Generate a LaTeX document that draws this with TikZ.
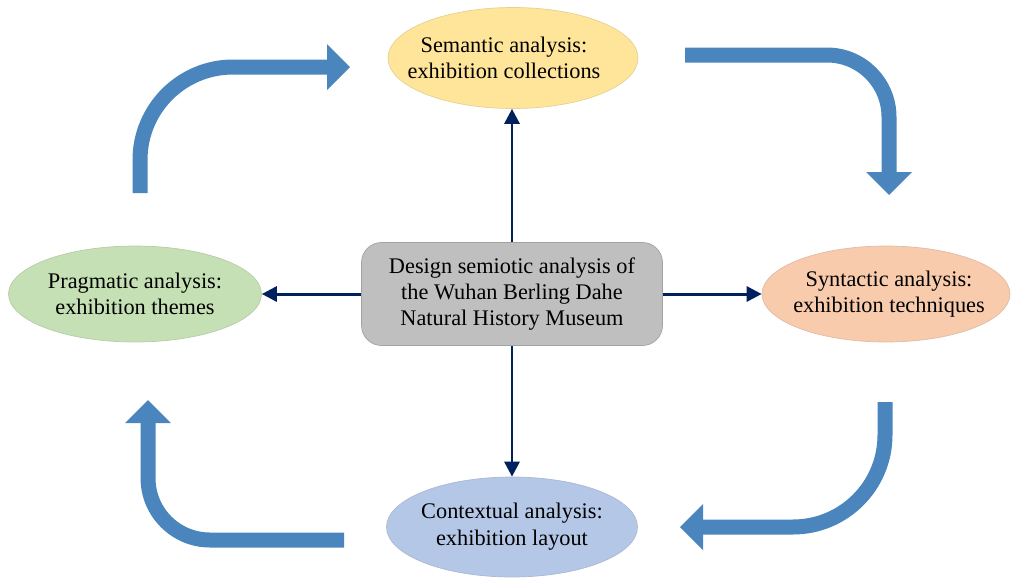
\documentclass[tikz,border=0pt]{standalone}
\usepackage{fontspec}
\setmainfont{Liberation Serif}
\usetikzlibrary{arrows.meta, shapes.geometric, positioning}
\definecolor{semyellow}{HTML}{FFE599}
\definecolor{praggreen}{HTML}{C5E0B4}
\definecolor{synorange}{HTML}{F8CBAD}
\definecolor{ctxblue}{HTML}{B4C7E7}
\definecolor{coregray}{HTML}{BFBFBF}
\definecolor{linknavy}{HTML}{002060}
\definecolor{flowblue}{HTML}{4A85BD}

\begin{document}
\begin{tikzpicture}[% styles used in image code
  x = 0.02cm, y = -0.02cm, % one unit = one pixel of the layout
  > = {Triangle[length=0.3cm, width=0.3cm]},
oval/.style = {ellipse, draw=#1!80!gray, fill=#1, line width=0.4pt,
               minimum width=5cm, minimum height=2cm, inner sep=0pt},
caption/.style = {align=center, inner sep=0pt,
               font=\fontsize{12.7}{15.2}\selectfont},
core/.style = {rectangle, rounded corners=0.4cm, fill=coregray,
               draw=coregray!85!black, line width=0.4pt,
               minimum width=6.02cm, minimum height=2.06cm,
               align=center, font=\fontsize{12.7}{15}\selectfont},
link/.style = {->, draw=linknavy, line width=1.7pt},
turn/.style = {-{Triangle[length=0.46cm, width=0.92cm, line width=0pt]},
               draw=flowblue, line width=0.3cm}
                        ]
	\useasboundingbox (0,0) rectangle (1011,582);

	% centre box
	\node[core] (design) at (512,294)
	     {Design semiotic analysis of\\the Wuhan Berling Dahe\\Natural History Museum};

	% the four analyses
	\node[oval=semyellow, minimum height=2.02cm] (sem) at (513,58) {};
	\node[oval=synorange, minimum width=4.96cm, minimum height=1.92cm] (syn) at (886,294) {};
	\node[oval=ctxblue, minimum width=5.02cm] (ctx) at (512,527) {};
	\node[oval=praggreen, minimum width=5.06cm, minimum height=1.92cm] (prag) at (135,294) {};

	\node[caption] (sem text)  at ([xshift=-0.18cm]sem.center)
	     {Semantic analysis:\\exhibition collections};
	\node[caption] (syn text)  at ([xshift=0.06cm]syn.center)
	     {Syntactic analysis:\\exhibition techniques};
	\node[caption] (ctx text)  at (ctx.center)
	     {Contextual analysis:\\exhibition layout};
	\node[caption] (prag text) at (prag.center)
	     {Pragmatic analysis:\\exhibition themes};

	% links out of the centre
	\draw[link] (design.north) -- (design.north |- sem.south);
	\draw[link] (design.east)  -- (syn.west);
	\draw[link] (design.south) -- (ctx.north);
	\draw[link] (design.west)  -- (prag.east);

	% bent arrows round the cycle
	\coordinate (tl from) at (140,193);
	\coordinate (tl to)   at (350,67);
	\coordinate (tr from) at (685,55);
	\coordinate (tr to)   at (889,195);
	\coordinate (br from) at (885,402);
	\coordinate (br to)   at (680,527);
	\coordinate (bl from) at (344,540);
	\coordinate (bl to)   at (148,400);

	\draw[turn, rounded corners=1.86cm] (tl from) |- (tl to);
	\draw[turn, rounded corners=1.24cm] (tr from) -| (tr to);
	\draw[turn, rounded corners=1.84cm] (br from) |- (br to);
	\draw[turn, rounded corners=1.24cm] (bl from) -| (bl to);
\end{tikzpicture}
\end{document}
